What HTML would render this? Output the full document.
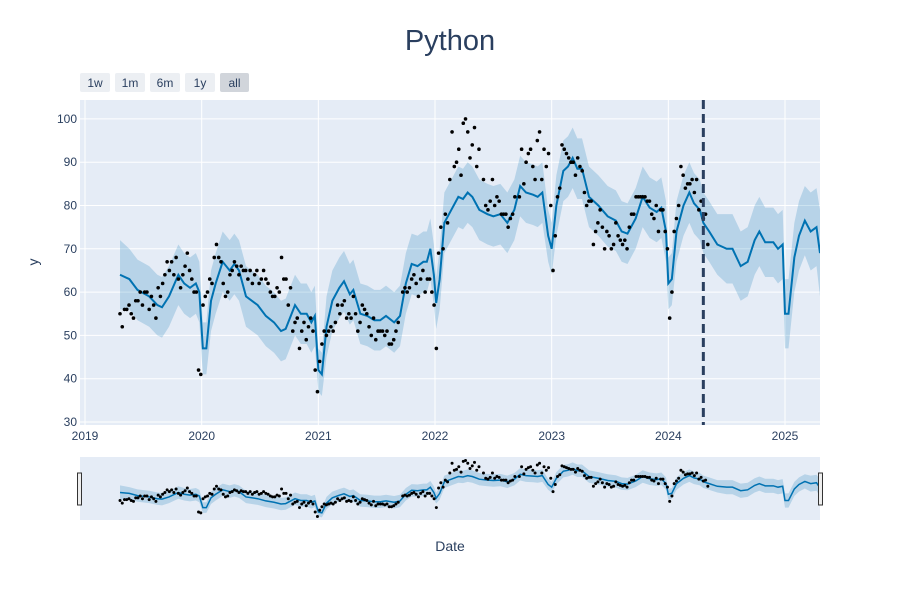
<!DOCTYPE html>
<html><head><meta charset="utf-8"><style>
body{margin:0;background:#fff;font-family:"Liberation Sans",sans-serif;}
svg text{font-family:"Liberation Sans",sans-serif;fill:#2a3f5f;}
</style></head><body>
<svg id="chart" width="900" height="600" xmlns="http://www.w3.org/2000/svg">
<defs>
<clipPath id="cpMain"><rect x="80" y="100" width="740" height="325"/></clipPath>
<clipPath id="cpMini"><rect x="80" y="457" width="740" height="63"/></clipPath>
</defs>
<rect width="900" height="600" fill="#fff"/>
<text x="450" y="50" font-size="29" text-anchor="middle">Python</text>
<g id="buttons"></g>
<rect x="80" y="100" width="740" height="325" fill="#e5ecf6"/>
<g id="grid"></g>
<g id="main" clip-path="url(#cpMain)"></g>
<text x="38" y="262" font-size="14" text-anchor="middle" transform="rotate(-90 38 262)">y</text>
<rect x="80" y="457" width="740" height="63" fill="#e5ecf6"/>
<g id="mini" clip-path="url(#cpMini)"></g>
<rect x="77.5" y="473" width="4" height="32" fill="#eee" stroke="#333" stroke-width="1"/>
<rect x="818.5" y="473" width="4" height="32" fill="#eee" stroke="#333" stroke-width="1"/>
<text x="450" y="551" font-size="14" text-anchor="middle">Date</text>
</svg>
<script>
const obsStart = 2019.30;
const obsValues = [55,52,56,56,57,55,54,58,58,60,57,60,60,56,59,57,54,61,59,62,64,67,65,67,64,68,63,61,64,66,69,65,63,60,60,42,41,57,59,60,63,62,68,71,68,67,62,59,60,64,65,67,66,64,66,65,65,63,65,62,64,65,62,63,65,63,62,60,59,59,61,60,68,63,63,57,61,51,53,54,47,51,53,49,52,54,51,42,37,44,48,51,50,51,52,51,53,57,55,57,58,54,55,54,59,55,51,53,57,56,55,52,50,54,49,51,51,51,50,51,48,48,49,51,53,null,60,61,60,61,63,64,62,59,63,65,60,63,63,60,57,47,69,75,70,78,76,
86,97,89,90,93,87,99,100,97,91,94,98,89,93,null,86,80,79,81,86,80,82,81,78,78,78,75,77,78,82,null,82,93,85,90,92,93,89,86,95,97,86,93,89,92,80,65,73,82,84,94,93,92,91,90,90,87,91,89,88,83,80,81,81,71,74,76,79,75,70,74,73,70,71,76,73,72,71,72,70,75,78,78,82,82,82,82,82,81,81,78,77,80,74,79,79,74,70,54,60,74,77,80,89,87,84,85,85,86,83,86,79,81,77,78,71];
const fcDates = [2019.30,2019.38,2019.45,2019.55,2019.62,2019.66,2019.72,2019.80,2019.85,2019.90,2019.95,2019.98,2020.01,2020.04,2020.08,2020.12,2020.18,2020.24,2020.28,2020.32,2020.38,2020.48,2020.55,2020.62,2020.68,2020.72,2020.80,2020.85,2020.90,2020.94,2020.97,2021.00,2021.03,2021.07,2021.12,2021.18,2021.22,2021.27,2021.30,2021.36,2021.42,2021.48,2021.53,2021.58,2021.65,2021.70,2021.75,2021.80,2021.85,2021.90,2021.93,2021.96,2021.99,2022.01,2022.04,2022.08,2022.14,2022.20,2022.24,2022.28,2022.32,2022.38,2022.45,2022.50,2022.56,2022.62,2022.68,2022.73,2022.78,2022.84,2022.88,2022.92,2022.97,2023.00,2023.04,2023.10,2023.14,2023.18,2023.22,2023.26,2023.32,2023.40,2023.48,2023.55,2023.60,2023.65,2023.72,2023.78,2023.84,2023.90,2023.94,2023.98,2024.00,2024.03,2024.07,2024.13,2024.18,2024.22,2024.27,2024.30,2024.35,2024.42,2024.50,2024.55,2024.62,2024.68,2024.74,2024.78,2024.83,2024.90,2024.94,2024.98,2025.00,2025.03,2025.08,2025.12,2025.17,2025.22,2025.27,2025.30];
const yhat = [64,63,60.5,59,57,56.5,59,64,62,61,62,60,47,47,58,62,67,65,66.5,65,59,57,54.5,53,51,51.5,57,55,55,53,54.5,42,41,52,58,61,62.5,59.5,60.5,55,54.5,53.5,53.5,54.5,53,54.5,62,66.5,66,67,67,70,64,57.5,63,76,79,82,81.5,83,82,79,78,77.5,78,76,79,84.5,83,82.5,82,83,73,70,80,88,89,91,88.5,88.5,82,80,77.5,76.5,74,73.5,77,82,79.5,78.5,79.5,74,62,63,74,80,83,80.5,79,76,74,71,70,70,66,67,72,74,71.5,71.5,70,71,55,55,68,73,76.5,74,75,69];
const bandW = [8,7,7,7,7,7,7,7,7,7,7,7,6,6,7,7,7,7,7,7,7,7,7,7,7,7,7,7,7,7,7,5,5,7,7,7,7,7,7,7,7,7,7,7,7,7,7,7,7,7,7,7,7,6,7,7,7,7,7,7,7,7,7,7,7,7,7,7,7,7,7,7,6,6,7,7,7,7,7,7,7,7,7,7,7,7,7,7,7,7,7,7,6,6,7,7,7,7,7,7,7,7,8,8,8,8,8,8,8,8,8,8,8,8,8,8,8,9,9,10];
const yTicks = [30,40,50,60,70,80,90,100];
const xTicks = [2019,2020,2021,2022,2023,2024,2025];
const buttonLabels = ["1w","1m","6m","1y","all"];
const cutoff = 2024.30;

const NS="http://www.w3.org/2000/svg";
const X0=2018.957, X1=2025.30;
const sx=t=>80+(t-X0)/(X1-X0)*740;
const sy=v=>422-(v-30)*4.33;
const my=v=>520-(v-33)/(104-33)*63;
function mk(tag,attrs,parent){const e=document.createElementNS(NS,tag);for(const k in attrs)e.setAttribute(k,attrs[k]);parent.appendChild(e);return e;}
const grid=document.getElementById('grid'), main=document.getElementById('main'), mini=document.getElementById('mini'), btns=document.getElementById('buttons');

buttonLabels.forEach((b,i)=>{
  const x=80+i*35, w=b==="all"?29:30;
  const r=mk('rect',{x:x,y:73,width:w,height:19,rx:2,fill:b==="all"?"#d1d5db":"#eceff3"},btns);
  
  
  const t=mk('text',{x:x+w/2,y:87,'font-size':12,'text-anchor':'middle'},btns);t.textContent=b;
  
  
});
yTicks.forEach(v=>{
  const l=mk('line',{x1:80,x2:820,y1:sy(v),y2:sy(v),stroke:'#fff','stroke-width':1},grid);
  
  
  const t=mk('text',{x:77,y:sy(v)+4,'font-size':12,'text-anchor':'end'},grid);t.textContent=v;
  
  
});
xTicks.forEach(v=>{
  const l=mk('line',{x1:sx(v),x2:sx(v),y1:100,y2:425,stroke:'#fff','stroke-width':1},grid);
  
  
  const t=mk('text',{x:sx(v),y:440,'font-size':12,'text-anchor':'middle'},grid);t.textContent=v;
  
  
});
function draw(parent,fy,lw,r,pre){
  let up='',lo='',ln='';
  fcDates.forEach((d,i)=>{up+=(i?'L':'M')+sx(d)+','+fy(yhat[i]+bandW[i]);ln+=(i?'L':'M')+sx(d)+','+fy(yhat[i]);});
  for(let i=fcDates.length-1;i>=0;i--)lo+='L'+sx(fcDates[i])+','+fy(yhat[i]-bandW[i]);
  const b=mk('path',{d:up+lo+'Z',fill:'rgba(0,114,178,0.2)'},parent);
  
  
  const l=mk('path',{d:ln,fill:'none',stroke:'#0072B2','stroke-width':lw},parent);
  
  
  obsValues.forEach((v,i)=>{
    if(v===null)return;
    const c=mk('circle',{cx:sx(obsStart+i/52),cy:fy(v),r:r,fill:'#000'},parent);
    
    
  });
}
draw(main,sy,2,1.8,'');
draw(mini,my,1.5,1.5,'mini-');
const cl=mk('line',{x1:sx(cutoff),x2:sx(cutoff),y1:100,y2:425,stroke:'#2a3f5f','stroke-width':3,'stroke-dasharray':'9,5'},main);


</script>
</body></html>
